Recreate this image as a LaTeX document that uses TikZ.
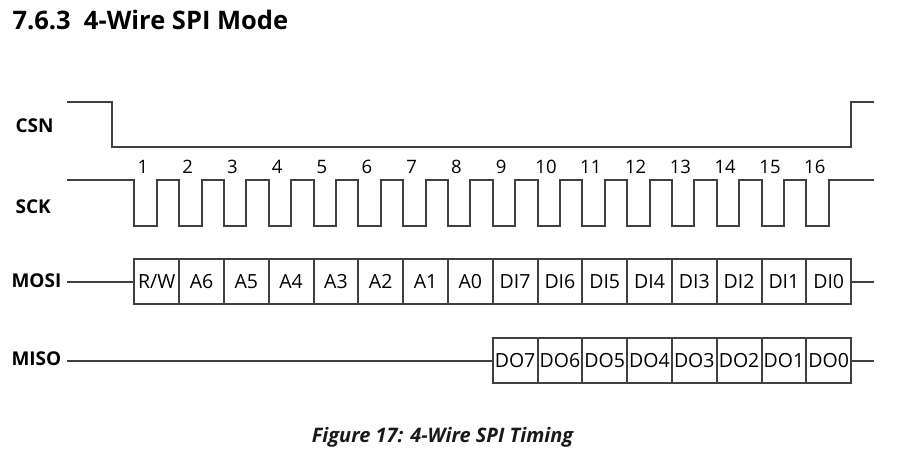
\documentclass[tikz,border=0pt]{standalone}
\usepackage{fontspec}
\setmainfont{Open Sans}
\usetikzlibrary{positioning}

\begin{document}
\begin{tikzpicture}[x=1pt, y=-1pt]
\tikzstyle{wave}=[draw=black!75, line width=2pt]
\tikzstyle{cell}=[draw=black!75, line width=2pt, minimum width=44.8pt, minimum height=45pt, inner sep=0pt, outer sep=0pt, font=\fontsize{19.5}{20}\selectfont]
\tikzstyle{sig}=[anchor=west, font=\bfseries\fontsize{19}{20}\selectfont]
\tikzstyle{tick}=[font=\fontsize{18.5}{19}\selectfont]
\useasboundingbox (0,0) rectangle (913,467);

\node[anchor=base west, font=\bfseries\fontsize{25.5}{27}\selectfont] (title) at (9,29) {7.6.3\ \ 4-Wire SPI Mode};

\node[sig] (csn) at (12,126) {CSN};
\node[sig] (sck) at (12,207) {SCK};
\node[sig] (mosi) at (8,280.5) {MOSI};
\node[sig] (miso) at (8,359) {MISO};

\draw[wave] (67,102) -- (112,102) -- (112,146.7) -- (851.3,146.7) -- (851.3,102) -- (874,102);

\draw[wave] (67,180) foreach \i in {0,...,15} { -- ({134.3+44.8*\i},180) -- ++(0,45.7) -- ++(22.4,0) -- ++(0,-45.7) } -- (874,180);
\foreach \i in {1,...,16}
    \node[tick] (n\i) at ({134.3+44.8*(\i-1)+8.5},167) {\i};

\foreach \t [count=\i] in {R/W,A6,A5,A4,A3,A2,A1,A0,DI7,DI6,DI5,DI4,DI3,DI2,DI1,DI0}
    \node[cell] (di\i) at ({134.3+44.8*(\i-0.5)},281.5) {\t};
\coordinate (mosiL) at (67,281.5);
\coordinate (mosiR) at (874,281.5);
\draw[wave] (mosiL) -- (di1.west);
\draw[wave] (di16.east) -- (mosiR);

\foreach \t [count=\i] in {DO7,DO6,DO5,DO4,DO3,DO2,DO1,DO0}
    \node[cell] (do\i) at ({492.7+44.8*(\i-0.5)},360.5) {\t};
\coordinate (misoL) at (67,360.5);
\coordinate (misoR) at (874,360.5);
\draw[wave] (misoL) -- (do1.west);
\draw[wave] (do8.east) -- (misoR);

\node[font=\bfseries\itshape\fontsize{20}{21}\selectfont, text=black!90] (caption) at (442.5,437) {Figure 17: 4-Wire SPI Timing};
\end{tikzpicture}
\end{document}
